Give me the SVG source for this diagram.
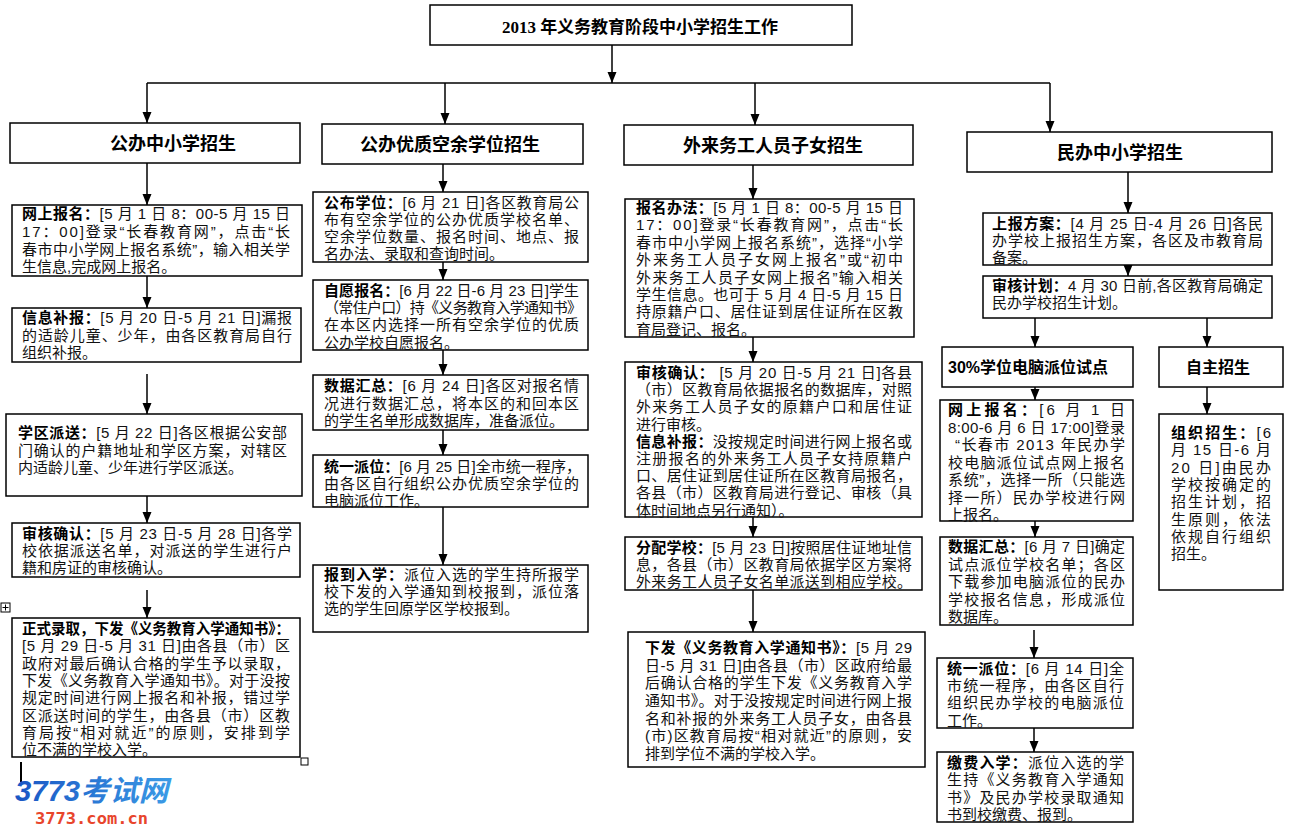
<svg xmlns="http://www.w3.org/2000/svg" width="1300" height="840" viewBox="0 0 1300 840">
<style>
.box{fill:#fff;stroke:#000;stroke-width:1.5}
.t{font-family:"Liberation Sans","Noto Sans CJK SC",sans-serif;font-size:15px;fill:#111}
.b{font-weight:700;fill:#000}
.h{font-family:"Liberation Sans","Noto Sans CJK SC",sans-serif;font-size:18px;font-weight:700;text-anchor:middle;fill:#000}
.hs{font-family:"Liberation Sans","Noto Sans CJK SC",sans-serif;font-size:16px;font-weight:700;text-anchor:middle;fill:#000}
.title{font-family:"Liberation Serif","Noto Sans CJK SC",serif;font-size:17px;font-weight:700;text-anchor:middle;fill:#000}
.c{stroke:#000;stroke-width:1.5;fill:none;marker-end:url(#ah)}
.ln{stroke:#000;stroke-width:1.5;fill:none}
</style>
<defs>
<marker id="ah" markerWidth="12" markerHeight="10" refX="11" refY="4.5" orient="auto" markerUnits="userSpaceOnUse"><path d="M0,0 L11,4.5 L0,9 z" fill="#000"/></marker>
<linearGradient id="wg" x1="0" y1="0" x2="1" y2="0"><stop offset="0" stop-color="#1a56c4"/><stop offset="1" stop-color="#3b9be6"/></linearGradient>
</defs>
<rect width="1300" height="840" fill="#fff"/>

<g id="connectors">
<path class="c" d="M612,45 V83"/>
<path class="ln" d="M147,83 H1050"/>
<path class="c" d="M147,83 V123"/>
<path class="c" d="M445,83 V124"/>
<path class="c" d="M755,83 V125"/>
<path class="c" d="M1050,83 V132"/>
<path class="c" d="M147,163 V205"/>
<path class="c" d="M147,276 V308"/>
<path class="c" d="M147,374 V414"/>
<path class="c" d="M147,496 V523"/>
<path class="c" d="M147,590 V618"/>
<path class="c" d="M443,164 V192"/>
<path class="c" d="M443,262 V280"/>
<path class="c" d="M443,350 V375"/>
<path class="c" d="M443,430 V455"/>
<path class="c" d="M443,507 V565"/>
<path class="c" d="M753,165 V199"/>
<path class="c" d="M753,337 V362"/>
<path class="c" d="M753,517 V537"/>
<path class="c" d="M753,590 V632"/>
<path class="c" d="M1128,172 V213"/>
<path class="c" d="M1128,255 V276"/>
<path class="c" d="M1035,318 V347"/>
<path class="c" d="M1207,318 V347"/>
<path class="c" d="M1035,387 V400"/>
<path class="c" d="M1207,387 V414"/>
<path class="c" d="M1035,521 V537"/>
<path class="c" d="M1034,630 V658"/>
<path class="c" d="M1034,728 V752"/>
</g>

<g id="title">
<rect class="box" x="430" y="5" width="422" height="40"/>
<text class="title" x="640" y="33">2013 年义务教育阶段中小学招生工作</text>
</g>

<g id="h1"><rect class="box" x="10" y="123" width="290" height="40"/><text class="h" x="173" y="150">公办中小学招生</text></g>
<g id="h2"><rect class="box" x="322" y="124" width="261" height="40"/><text class="h" x="450" y="151">公办优质空余学位招生</text></g>
<g id="h3"><rect class="box" x="624" y="125" width="289" height="40"/><text class="h" x="773" y="152">外来务工人员子女招生</text></g>
<g id="h4"><rect class="box" x="967" y="132" width="305" height="40"/><text class="h" x="1120" y="159">民办中小学招生</text></g>

<g id="c1n1"><rect class="box" x="12" y="205" width="290" height="71"/>
<text class="t" x="22" y="219" textLength="268" lengthAdjust="spacing"><tspan class="b">网上报名：</tspan>[5 月 1 日 8：00-5 月 15 日</text>
<text class="t" x="22" y="236.5" textLength="268" lengthAdjust="spacing">17：00]登录“长春教育网”，点击“长</text>
<text class="t" x="22" y="254.5" textLength="268" lengthAdjust="spacing">春市中小学网上报名系统”，输入相关学</text>
<text class="t" x="22" y="272">生信息,完成网上报名。</text>
</g>
<g id="c1n2"><rect class="box" x="12" y="308" width="289" height="54"/>
<text class="t" x="22" y="323" textLength="270" lengthAdjust="spacing"><tspan class="b">信息补报：</tspan>[5 月 20 日-5 月 21 日]漏报</text>
<text class="t" x="22" y="340.5" textLength="270" lengthAdjust="spacing">的适龄儿童、少年，由各区教育局自行</text>
<text class="t" x="22" y="358">组织补报。</text>
</g>
<g id="c1n3"><rect class="box" x="6" y="414" width="296" height="82"/>
<text class="t" x="18" y="438" textLength="269" lengthAdjust="spacing"><tspan class="b">学区派送：</tspan>[5 月 22 日]各区根据公安部</text>
<text class="t" x="18" y="455.5" textLength="269" lengthAdjust="spacing">门确认的户籍地址和学区方案，对辖区</text>
<text class="t" x="18" y="473">内适龄儿童、少年进行学区派送。</text>
</g>
<g id="c1n4"><rect class="box" x="12" y="523" width="288" height="54"/>
<text class="t" x="22" y="539" textLength="270" lengthAdjust="spacing"><tspan class="b">审核确认：</tspan>[5 月 23 日-5 月 28 日]各学</text>
<text class="t" x="22" y="556" textLength="270" lengthAdjust="spacing">校依据派送名单，对派送的学生进行户</text>
<text class="t" x="22" y="573">籍和房证的审核确认。</text>
</g>
<g id="c1n5"><rect class="box" x="12" y="618" width="288" height="139"/>
<text class="t b" x="22" y="634" textLength="268" lengthAdjust="spacingAndGlyphs">正式录取，下发《义务教育入学通知书》：</text>
<text class="t" x="22" y="651.3" textLength="268" lengthAdjust="spacing">[5 月 29 日-5 月 31 日]由各县（市）区</text>
<text class="t" x="22" y="668.6" textLength="268" lengthAdjust="spacing">政府对最后确认合格的学生予以录取，</text>
<text class="t" x="22" y="685.9" textLength="268" lengthAdjust="spacing">下发《义务教育入学通知书》。对于没按</text>
<text class="t" x="22" y="703.2" textLength="268" lengthAdjust="spacing">规定时间进行网上报名和补报，错过学</text>
<text class="t" x="22" y="720.5" textLength="268" lengthAdjust="spacing">区派送时间的学生，由各县（市）区教</text>
<text class="t" x="22" y="737.8" textLength="268" lengthAdjust="spacing">育局按“相对就近”的原则，安排到学</text>
<text class="t" x="22" y="755">位不满的学校入学。</text>
</g>

<g id="c2n1"><rect class="box" x="313" y="192" width="275" height="70"/>
<text class="t" x="324" y="207.5" textLength="255" lengthAdjust="spacing"><tspan class="b">公布学位：</tspan>[6 月 21 日]各区教育局公</text>
<text class="t" x="324" y="224.5" textLength="255" lengthAdjust="spacing">布有空余学位的公办优质学校名单、</text>
<text class="t" x="324" y="241.5" textLength="255" lengthAdjust="spacing">空余学位数量、报名时间、地点、报</text>
<text class="t" x="324" y="258.5">名办法、录取和查询时间。</text>
</g>
<g id="c2n2"><rect class="box" x="313" y="280" width="275" height="70"/>
<text class="t" x="324" y="296" textLength="255" lengthAdjust="spacing"><tspan class="b">自愿报名：</tspan>[6 月 22 日-6 月 23 日]学生</text>
<text class="t" x="324" y="313" textLength="258" lengthAdjust="spacing">（常住户口）持《义务教育入学通知书》</text>
<text class="t" x="324" y="330" textLength="255" lengthAdjust="spacing">在本区内选择一所有空余学位的优质</text>
<text class="t" x="324" y="347.5">公办学校自愿报名。</text>
</g>
<g id="c2n3"><rect class="box" x="313" y="375" width="275" height="55"/>
<text class="t" x="324" y="391" textLength="255" lengthAdjust="spacing"><tspan class="b">数据汇总：</tspan>[6 月 24 日]各区对报名情</text>
<text class="t" x="324" y="408.5" textLength="255" lengthAdjust="spacing">况进行数据汇总，将本区的和回本区</text>
<text class="t" x="324" y="426">的学生名单形成数据库，准备派位。</text>
</g>
<g id="c2n4"><rect class="box" x="313" y="455" width="275" height="52"/>
<text class="t" x="324" y="472" textLength="257" lengthAdjust="spacing"><tspan class="b">统一派位：</tspan>[6 月 25 日]全市统一程序，</text>
<text class="t" x="324" y="489" textLength="255" lengthAdjust="spacing">由各区自行组织公办优质空余学位的</text>
<text class="t" x="324" y="506">电脑派位工作。</text>
</g>
<g id="c2n5"><rect class="box" x="313" y="565" width="275" height="67"/>
<text class="t" x="324" y="580" textLength="255" lengthAdjust="spacing"><tspan class="b">报到入学：</tspan>派位入选的学生持所报学</text>
<text class="t" x="324" y="597" textLength="255" lengthAdjust="spacing">校下发的入学通知到校报到，派位落</text>
<text class="t" x="324" y="614">选的学生回原学区学校报到。</text>
</g>

<g id="c3n1"><rect class="box" x="625" y="199" width="289" height="138"/>
<text class="t" x="636" y="213" textLength="267" lengthAdjust="spacing"><tspan class="b">报名办法：</tspan>[5 月 1 日 8：00-5 月 15 日</text>
<text class="t" x="636" y="230.4" textLength="267" lengthAdjust="spacing">17：00]登录“长春教育网”，点击“长</text>
<text class="t" x="636" y="247.8" textLength="267" lengthAdjust="spacing">春市中小学网上报名系统”，选择“小学</text>
<text class="t" x="636" y="265.2" textLength="267" lengthAdjust="spacing">外来务工人员子女网上报名”或“初中</text>
<text class="t" x="636" y="282.6" textLength="267" lengthAdjust="spacing">外来务工人员子女网上报名”输入相关</text>
<text class="t" x="636" y="300" textLength="267" lengthAdjust="spacing">学生信息。也可于 5 月 4 日-5 月 15 日</text>
<text class="t" x="636" y="317.4" textLength="267" lengthAdjust="spacing">持原籍户口、居住证到居住证所在区教</text>
<text class="t" x="636" y="334.8">育局登记、报名。</text>
</g>
<g id="c3n2"><rect class="box" x="625" y="362" width="297" height="155"/>
<text class="t" x="636" y="378" textLength="276" lengthAdjust="spacing"><tspan class="b">审核确认：</tspan> [5 月 20 日-5 月 21 日]各县</text>
<text class="t" x="636" y="395.2" textLength="276" lengthAdjust="spacing">（市）区教育局依据报名的数据库，对照</text>
<text class="t" x="636" y="412.4" textLength="276" lengthAdjust="spacing">外来务工人员子女的原籍户口和居住证</text>
<text class="t" x="636" y="429.6">进行审核。</text>
<text class="t" x="636" y="446.8" textLength="276" lengthAdjust="spacing"><tspan class="b">信息补报：</tspan>没按规定时间进行网上报名或</text>
<text class="t" x="636" y="464" textLength="276" lengthAdjust="spacing">注册报名的外来务工人员子女持原籍户</text>
<text class="t" x="636" y="481.2" textLength="276" lengthAdjust="spacing">口、居住证到居住证所在区教育局报名，</text>
<text class="t" x="636" y="498.4" textLength="276" lengthAdjust="spacing">各县（市）区教育局进行登记、审核（具</text>
<text class="t" x="636" y="515.6">体时间地点另行通知）。</text>
</g>
<g id="c3n3"><rect class="box" x="625" y="537" width="297" height="53"/>
<text class="t" x="636" y="552.5" textLength="276" lengthAdjust="spacing"><tspan class="b">分配学校：</tspan>[5 月 23 日]按照居住证地址信</text>
<text class="t" x="636" y="569.5" textLength="276" lengthAdjust="spacing">息，各县（市）区教育局依据学区方案将</text>
<text class="t" x="636" y="586.5" textLength="276" lengthAdjust="spacing">外来务工人员子女名单派送到相应学校。</text>
</g>
<g id="c3n4"><rect class="box" x="628" y="632" width="297" height="135"/>
<text class="t" x="645" y="653" textLength="267" lengthAdjust="spacing"><tspan class="b">下发《义务教育入学通知书》：</tspan>[5 月 29</text>
<text class="t" x="645" y="670.7" textLength="267" lengthAdjust="spacing">日-5 月 31 日]由各县（市）区政府给最</text>
<text class="t" x="645" y="688.3" textLength="267" lengthAdjust="spacing">后确认合格的学生下发《义务教育入学</text>
<text class="t" x="645" y="706" textLength="267" lengthAdjust="spacing">通知书》。对于没按规定时间进行网上报</text>
<text class="t" x="645" y="723.7" textLength="267" lengthAdjust="spacing">名和补报的外来务工人员子女，由各县</text>
<text class="t" x="645" y="741.3" textLength="267" lengthAdjust="spacing">(市)区教育局按“相对就近”的原则，安</text>
<text class="t" x="645" y="759">排到学位不满的学校入学。</text>
</g>

<g id="c4n1"><rect class="box" x="983" y="213" width="289" height="52"/>
<text class="t" x="992" y="229" textLength="271" lengthAdjust="spacing"><tspan class="b">上报方案：</tspan>[4 月 25 日-4 月 26 日]各民</text>
<text class="t" x="992" y="246" textLength="271" lengthAdjust="spacing">办学校上报招生方案，各区及市教育局</text>
<text class="t" x="992" y="263">备案。</text>
</g>
<g id="c4n2"><rect class="box" x="983" y="276" width="289" height="42"/>
<text class="t" x="992" y="291" textLength="271" lengthAdjust="spacing"><tspan class="b">审核计划：</tspan>4 月 30 日前,各区教育局确定</text>
<text class="t" x="992" y="308">民办学校招生计划。</text>
</g>
<g id="c4n3"><rect class="box" x="942" y="347" width="191" height="40"/><text class="hs" x="1028" y="373">30%学位电脑派位试点</text></g>
<g id="c4n4"><rect class="box" x="1159" y="347" width="124" height="40"/><text class="hs" x="1218" y="373">自主招生</text></g>
<g id="c4n5"><rect class="box" x="940" y="400" width="193" height="121"/>
<text class="t" x="948" y="415" textLength="177" lengthAdjust="spacing"><tspan class="b">网上报名：</tspan>[6 月 1 日</text>
<text class="t" x="948" y="432.5" textLength="177" lengthAdjust="spacing">8:00-6 月 6 日 17:00]登录</text>
<text class="t" x="955" y="450" textLength="170" lengthAdjust="spacing">“长春市 2013 年民办学</text>
<text class="t" x="948" y="467.5" textLength="177" lengthAdjust="spacing">校电脑派位试点网上报名</text>
<text class="t" x="948" y="485" textLength="177" lengthAdjust="spacing">系统”，选择一所（只能选</text>
<text class="t" x="948" y="502.5" textLength="177" lengthAdjust="spacing">择一所）民办学校进行网</text>
<text class="t" x="948" y="520">上报名。</text>
</g>
<g id="c4n6"><rect class="box" x="940" y="537" width="193" height="88"/>
<text class="t" x="948" y="552" textLength="177" lengthAdjust="spacing"><tspan class="b">数据汇总：</tspan>[6 月 7 日]确定</text>
<text class="t" x="948" y="569.5" textLength="177" lengthAdjust="spacing">试点派位学校名单；各区</text>
<text class="t" x="948" y="587" textLength="177" lengthAdjust="spacing">下载参加电脑派位的民办</text>
<text class="t" x="948" y="604.5" textLength="177" lengthAdjust="spacing">学校报名信息，形成派位</text>
<text class="t" x="948" y="622">数据库。</text>
</g>
<g id="c4n7"><rect class="box" x="1159" y="414" width="124" height="176"/>
<text class="t" x="1171" y="438" textLength="100" lengthAdjust="spacing"><tspan class="b">组织招生：</tspan>[6</text>
<text class="t" x="1171" y="455.3" textLength="100" lengthAdjust="spacing">月 15 日-6 月</text>
<text class="t" x="1171" y="472.6" textLength="100" lengthAdjust="spacing">20 日]由民办</text>
<text class="t" x="1171" y="489.9" textLength="100" lengthAdjust="spacing">学校按确定的</text>
<text class="t" x="1171" y="507.2" textLength="100" lengthAdjust="spacing">招生计划，招</text>
<text class="t" x="1171" y="524.5" textLength="100" lengthAdjust="spacing">生原则，依法</text>
<text class="t" x="1171" y="541.8" textLength="100" lengthAdjust="spacing">依规自行组织</text>
<text class="t" x="1171" y="559.1">招生。</text>
</g>
<g id="c4n8"><rect class="box" x="937" y="658" width="196" height="70"/>
<text class="t" x="947" y="674" textLength="177" lengthAdjust="spacing"><tspan class="b">统一派位：</tspan>[6 月 14 日]全</text>
<text class="t" x="947" y="691.2" textLength="177" lengthAdjust="spacing">市统一程序，由各区自行</text>
<text class="t" x="947" y="708.4" textLength="177" lengthAdjust="spacing">组织民办学校的电脑派位</text>
<text class="t" x="947" y="725.6">工作。</text>
</g>
<g id="c4n9"><rect class="box" x="937" y="752" width="196" height="70"/>
<text class="t" x="947" y="768" textLength="177" lengthAdjust="spacing"><tspan class="b">缴费入学：</tspan>派位入选的学</text>
<text class="t" x="947" y="785.3" textLength="177" lengthAdjust="spacing">生持《义务教育入学通知</text>
<text class="t" x="947" y="802.6" textLength="177" lengthAdjust="spacing">书》及民办学校录取通知</text>
<text class="t" x="947" y="820">书到校缴费、报到。</text>
</g>

<g id="artifacts">
<rect x="1" y="603" width="9" height="9" fill="#fff" stroke="#000" stroke-width="1"/>
<path d="M5.5,604.5 V610.5 M2.5,607.5 H8.5" stroke="#000" stroke-width="1"/>
<rect x="301" y="758" width="7" height="7" fill="#fff" stroke="#000" stroke-width="1"/>
<path d="M21,762 V782" stroke="#000" stroke-width="2"/>
</g>

<g id="watermark">
<text x="15" y="801" font-family="Liberation Sans,Noto Sans CJK SC,sans-serif" font-size="29" font-weight="700" font-style="italic" fill="url(#wg)" textLength="153" lengthAdjust="spacingAndGlyphs">3773考试网</text>
<text x="35" y="824" font-family="DejaVu Sans Mono,monospace" font-size="15" font-weight="700" fill="#e8452c" textLength="113" lengthAdjust="spacingAndGlyphs">3773.com.cn</text>
</g>
</svg>
